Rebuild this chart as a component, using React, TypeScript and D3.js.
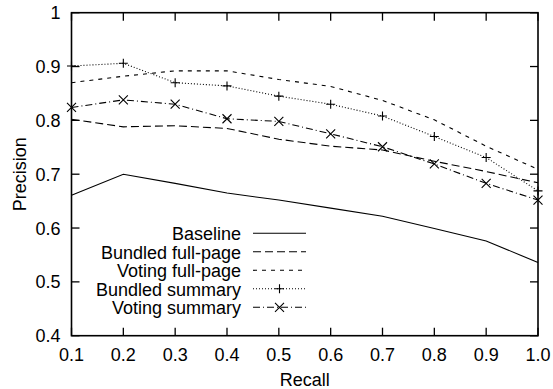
import { useEffect, useRef } from 'react';
import * as d3 from 'd3';

const recall = [0.1, 0.2, 0.3, 0.4, 0.5, 0.6, 0.7, 0.8, 0.9, 1.0];
const baseline = [0.661, 0.700, 0.683, 0.665, 0.652, 0.637, 0.622, 0.599, 0.576, 0.536];
const bundledFull = [0.802, 0.788, 0.790, 0.785, 0.765, 0.752, 0.745, 0.724, 0.705, 0.684];
const votingFull = [0.870, 0.882, 0.892, 0.892, 0.876, 0.863, 0.837, 0.801, 0.752, 0.709];
const bundledSummary = [0.901, 0.906, 0.870, 0.864, 0.845, 0.830, 0.808, 0.770, 0.731, 0.669];
const votingSummary = [0.824, 0.838, 0.830, 0.803, 0.798, 0.775, 0.751, 0.719, 0.683, 0.652];

const xTicks = [0.1, 0.2, 0.3, 0.4, 0.5, 0.6, 0.7, 0.8, 0.9, 1.0];
const yTicks = [0.4, 0.5, 0.6, 0.7, 0.8, 0.9, 1];

const series = [
  { name: 'Baseline', values: baseline, dash: '', marker: '' },
  { name: 'Bundled full-page', values: bundledFull, dash: '8,4', marker: '' },
  { name: 'Voting full-page', values: votingFull, dash: '4,5', marker: '' },
  { name: 'Bundled summary', values: bundledSummary, dash: '1,2', marker: 'plus' },
  { name: 'Voting summary', values: votingSummary, dash: '7,3,1,3', marker: 'cross' },
];

const W = 553;
const H = 389;
const margin = { top: 12.7, right: 15, bottom: 53.3, left: 71.5 };
const FONT = 'Liberation Sans, Arial, Helvetica, sans-serif';
const FS = 18;

export default function App() {
  const ref = useRef<SVGSVGElement>(null);

  useEffect(() => {
    if (!ref.current) return;
    const svg = d3.select(ref.current);
    svg.selectAll('*').remove();

    const innerW = W - margin.left - margin.right;
    const innerH = H - margin.top - margin.bottom;
    const x = d3.scaleLinear().domain([0.1, 1.0]).range([margin.left, margin.left + innerW]);
    const y = d3.scaleLinear().domain([0.4, 1]).range([margin.top + innerH, margin.top]);

    const g = svg.append('g');

    // tick marks on all four sides, pointing inward
    const tickLen = 8;
    xTicks.forEach(t => {
      g.append('line').attr('x1', x(t)).attr('x2', x(t))
        .attr('y1', y(0.4)).attr('y2', y(0.4) - tickLen)
        .attr('stroke', '#000').attr('stroke-width', 1.3);
      g.append('line').attr('x1', x(t)).attr('x2', x(t))
        .attr('y1', y(1)).attr('y2', y(1) + tickLen)
        .attr('stroke', '#000').attr('stroke-width', 1.3);
      g.append('text').attr('x', x(t)).attr('y', y(0.4) + 25.5)
        .attr('text-anchor', 'middle')
        .attr('font-family', FONT).attr('font-size', FS)
        .text(t.toFixed(1));
    });
    yTicks.forEach(t => {
      g.append('line').attr('x1', x(0.1)).attr('x2', x(0.1) + tickLen)
        .attr('y1', y(t)).attr('y2', y(t))
        .attr('stroke', '#000').attr('stroke-width', 1.3);
      g.append('line').attr('x1', x(1.0)).attr('x2', x(1.0) - tickLen)
        .attr('y1', y(t)).attr('y2', y(t))
        .attr('stroke', '#000').attr('stroke-width', 1.3);
      g.append('text').attr('x', x(0.1) - 11).attr('y', y(t) + 6.5)
        .attr('text-anchor', 'end')
        .attr('font-family', FONT).attr('font-size', FS)
        .text(t === 1 ? '1' : t.toFixed(1));
    });

    // frame
    g.append('rect')
      .attr('x', x(0.1)).attr('y', y(1))
      .attr('width', x(1.0) - x(0.1)).attr('height', y(0.4) - y(1))
      .attr('fill', 'none').attr('stroke', '#000').attr('stroke-width', 1.6);

    // axis titles
    g.append('text').attr('x', (x(0.1) + x(1.0)) / 2).attr('y', 386)
      .attr('text-anchor', 'middle')
      .attr('font-family', FONT).attr('font-size', FS)
      .text('Recall');
    g.append('text')
      .attr('transform', `translate(25.5,${(y(0.4) + y(1)) / 2}) rotate(-90)`)
      .attr('text-anchor', 'middle')
      .attr('font-family', FONT).attr('font-size', FS)
      .text('Precision');

    const drawMarker = (sel: any, kind: string, cx: number, cy: number) => {
      const s = 4.5;
      if (kind === 'plus') {
        sel.append('path')
          .attr('d', `M${cx - s},${cy}H${cx + s}M${cx},${cy - s}V${cy + s}`)
          .attr('stroke', '#000').attr('stroke-width', 1.1).attr('fill', 'none');
      } else if (kind === 'cross') {
        sel.append('path')
          .attr('d', `M${cx - s},${cy - s}L${cx + s},${cy + s}M${cx - s},${cy + s}L${cx + s},${cy - s}`)
          .attr('stroke', '#000').attr('stroke-width', 1.1).attr('fill', 'none');
      }
    };

    const line = d3.line<number>()
      .x((_, i) => x(recall[i]))
      .y(d => y(d));

    series.forEach(s => {
      g.append('path')
        .datum(s.values)
        .attr('d', line)
        .attr('fill', 'none')
        .attr('stroke', '#000')
        .attr('stroke-width', 1.1)
        .attr('stroke-dasharray', s.dash || null);
      if (s.marker) {
        s.values.forEach((v, i) => drawMarker(g, s.marker, x(recall[i]), y(v)));
      }
    });

    // legend
    const legX = 241;
    const lineX1 = 253;
    const lineX2 = 306;
    series.forEach((s, i) => {
      const ly = 233.3 + i * 18.5;
      g.append('text').attr('x', legX).attr('y', ly + 6.7)
        .attr('text-anchor', 'end')
        .attr('font-family', FONT).attr('font-size', FS)
        .text(s.name);
      g.append('line')
        .attr('x1', lineX1).attr('x2', lineX2)
        .attr('y1', ly).attr('y2', ly)
        .attr('stroke', '#000').attr('stroke-width', 1.1)
        .attr('stroke-dasharray', s.dash || null);
      if (s.marker) drawMarker(g, s.marker, (lineX1 + lineX2) / 2, ly);
    });
  }, []);

  return (
    <svg
      ref={ref}
      width={W}
      height={H}
      style={{ position: 'absolute', left: 0, top: 0, background: '#fff' }}
    />
  );
}
